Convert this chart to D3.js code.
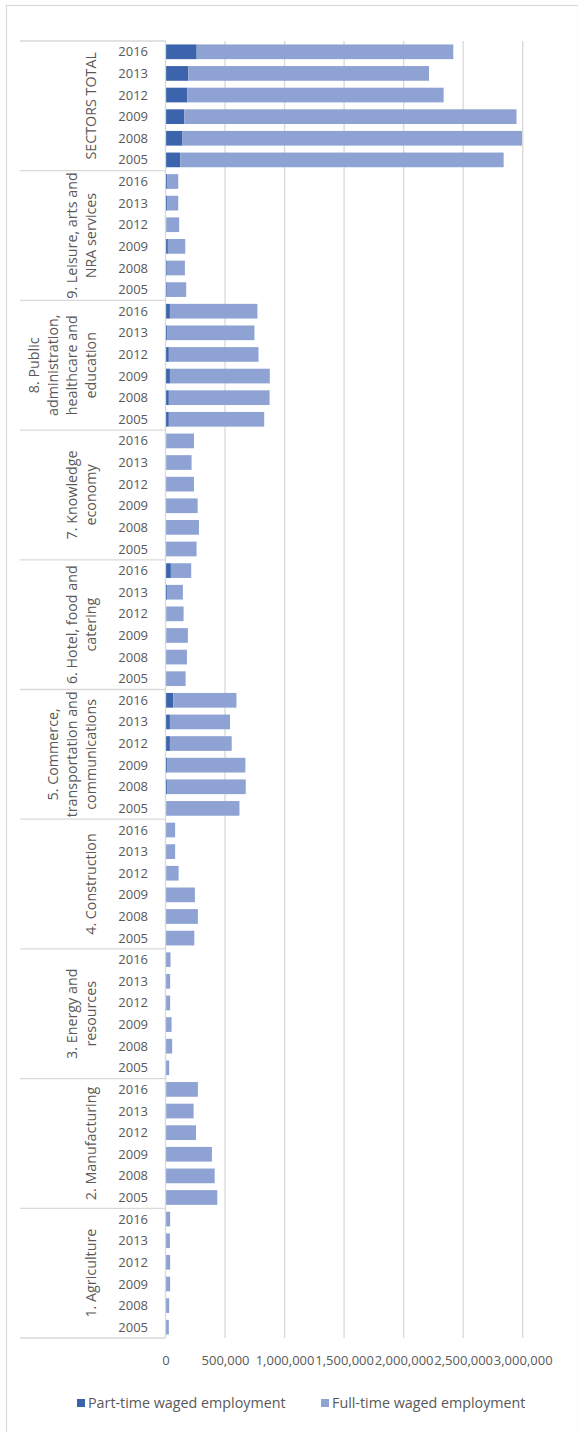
<!DOCTYPE html>
<html>
<head>
<meta charset="utf-8">
<script src="https://cdn.jsdelivr.net/npm/d3@7/dist/d3.min.js"></script>
<style>
  html, body { margin: 0; padding: 0; background: #fff; }
  svg { display: block; }
  text { font-family: "Open Sans", Carlito, Calibri, sans-serif; fill: #595959; }
</style>
</head>
<body>
<svg id="chart" width="578" height="1432"></svg>
<script>
// ---- data (top row first within each group, groups top to bottom) ----
const sectors = [
  "SECTORS TOTAL",
  "9. Leisure, arts and NRA services",
  "8. Public administration, healthcare and education",
  "7. Knowledge economy",
  "6. Hotel, food and catering",
  "5. Commerce, transportation and communications",
  "4. Construction",
  "3. Energy and resources",
  "2. Manufacturing",
  "1. Agriculture"
];
const sectorLines = [
  ["SECTORS TOTAL"],
  ["9. Leisure, arts and", "NRA services"],
  ["8. Public", "administration,", "healthcare and", "education"],
  ["7. Knowledge", "economy"],
  ["6. Hotel, food and", "catering"],
  ["5. Commerce,", "transportation and", "communications"],
  ["4. Construction"],
  ["3. Energy and", "resources"],
  ["2. Manufacturing"],
  ["1. Agriculture"]
];
const years = ["2016", "2013", "2012", "2009", "2008", "2005"];

// Part-time waged employment, per sector, in the order of `years`
const partTime = [
  [262000, 191000, 182000, 157000, 139000, 123000],
  [17000, 17000, 8000, 20000, 11000, 11000],
  [37000, 17000, 28000, 37000, 28000, 28000],
  [8000, 8000, 3000, 3000, 3000, 3000],
  [45000, 17000, 8000, 8000, 3000, 3000],
  [65000, 37000, 37000, 17000, 17000, 8000],
  [3000, 2000, 5000, 2000, 2000, 2000],
  [2000, 2000, 2000, 2000, 2000, 2000],
  [8000, 8000, 3000, 3000, 3000, 3000],
  [2000, 2000, 2000, 2000, 2000, 2000]
];
// Full-time waged employment
const fullTime = [
  [2155000, 2022000, 2154000, 2791000, 2855000, 2717000],
  [90000, 90000, 107000, 146000, 152000, 163000],
  [735000, 730000, 753000, 839000, 846000, 801000],
  [231000, 211000, 236000, 267000, 278000, 258000],
  [171000, 129000, 144000, 180000, 177000, 166000],
  [531000, 505000, 519000, 654000, 657000, 613000],
  [78000, 79000, 105000, 245000, 270000, 240000],
  [40000, 37000, 37000, 49000, 54000, 29000],
  [264000, 228000, 253000, 387000, 410000, 432000],
  [37000, 35000, 37000, 37000, 29000, 26000]
];
const xTicks = [0, 500000, 1000000, 1500000, 2000000, 2500000, 3000000];
const seriesNames = ["Part-time waged employment", "Full-time waged employment"];
const colors = ["#3B64AD", "#8EA3D3"];

// ---- build rows ----
const rows = [];
sectors.forEach((s, i) => {
  years.forEach((yr, j) => {
    rows.push({ key: s + "|" + yr, sector: s, si: i, year: yr, part: partTime[i][j], full: fullTime[i][j] });
  });
});

const svg = d3.select("#chart");
const plotL = 165.5, plotR = 522.7, plotT = 41, plotB = 1338;
const FS = 13;     // numbers
const FST = 14.3;  // words

// chart border
svg.append("rect").attr("x", 6.5).attr("y", 5.5).attr("width", 572).attr("height", 1440)
  .attr("fill", "none").attr("stroke", "#d9d9d9").attr("stroke-width", 1.2);

const x = d3.scaleLinear().domain([0, 3000000]).range([plotL, plotR]);
const y = d3.scaleBand().domain(rows.map(r => r.key)).range([plotT, plotB])
  .paddingInner(0.32).paddingOuter(0.16);

// gridlines
svg.append("g").selectAll("line").data(xTicks.slice(1)).join("line")
  .attr("x1", d => x(d)).attr("x2", d => x(d))
  .attr("y1", plotT).attr("y2", plotB)
  .attr("stroke", "#d9d9d9").attr("stroke-width", 1.3);

// bars
const stack = d3.stack().keys(["part", "full"]);
const series = stack(rows);
svg.append("g").selectAll("g").data(series).join("g")
  .attr("fill", (d, i) => colors[i])
  .selectAll("rect").data(d => d).join("rect")
  .attr("x", d => x(d[0]))
  .attr("y", d => y(d.data.key))
  .attr("width", d => Math.max(0, x(d[1]) - x(d[0])))
  .attr("height", y.bandwidth());

// x axis labels
const xAxis = d3.axisBottom(x).tickValues(xTicks).tickFormat(d3.format(",")).tickSize(0).tickPadding(0);
const gx = svg.append("g").attr("transform", `translate(0, ${plotB + 22})`).call(xAxis);
gx.select(".domain").remove();
gx.selectAll("text").attr("font-size", FS).attr("fill", "#595959").attr("dy", "0.35em")
  .style("font-family", "'Open Sans', Carlito, Calibri, sans-serif");

// category axis: separators
const groupH = (plotB - plotT) / sectors.length;
const sepYs = d3.range(sectors.length + 1).map(i => plotT + i * groupH);
svg.append("g").selectAll("line").data(sepYs).join("line")
  .attr("x1", 20).attr("x2", plotL).attr("y1", d => d).attr("y2", d => d)
  .attr("stroke", "#d9d9d9").attr("stroke-width", 1.3);
svg.append("line").attr("x1", plotL).attr("x2", plotL).attr("y1", plotT).attr("y2", plotB)
  .attr("stroke", "#d9d9d9").attr("stroke-width", 1.3);

// year labels
svg.append("g").selectAll("text").data(rows).join("text")
  .attr("x", 148).attr("y", d => y(d.key) + y.bandwidth() / 2)
  .attr("dy", "0.35em").attr("text-anchor", "end").attr("font-size", FS)
  .text(d => d.year);

// sector labels (rotated)
sectorLines.forEach((lines, i) => {
  const cy = plotT + (i + 0.5) * groupH;
  const n = lines.length;
  const lh = 19;
  const t = svg.append("text")
    .attr("transform", `translate(0, ${cy}) rotate(-90)`)
    .attr("text-anchor", "middle").attr("font-size", FST);
  lines.forEach((ln, k) => {
    const cx = 91 - (n - 1 - k) * lh;
    t.append("tspan").attr("x", 0).attr("y", cx).attr("dy", "0.35em").text(ln);
  });
});

// legend
const legendX = [77, 321];
const lg = svg.append("g");
seriesNames.forEach((name, i) => {
  lg.append("rect").attr("x", legendX[i]).attr("y", 1399).attr("width", 8).attr("height", 8).attr("fill", colors[i]);
  lg.append("text").attr("x", legendX[i] + 11).attr("y", 1403).attr("dy", "0.35em")
    .attr("font-size", FST).text(name);
});
</script>
</body>
</html>
